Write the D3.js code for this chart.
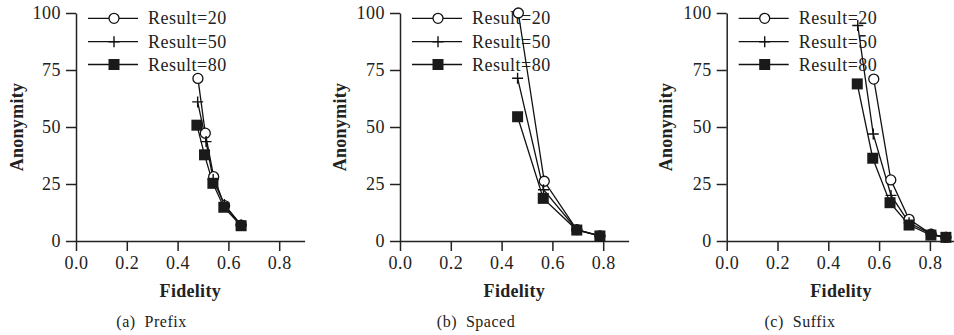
<!DOCTYPE html>
<html>
<head>
<meta charset="utf-8">
<script src="https://cdn.jsdelivr.net/npm/d3@7"></script>
<style>
  html, body { margin: 0; padding: 0; background: #fff; }
  svg { display: block; }
  text { font-family: "Liberation Serif", "Times New Roman", serif; fill: #222; }
</style>
</head>
<body>
<svg id="chart" width="954" height="335"></svg>
<script>
// ---------- data ----------
const seriesNames = ["Result=20", "Result=50", "Result=80"];
const xTicks = [0.0, 0.2, 0.4, 0.6, 0.8];
const yTicks = [0, 25, 50, 75, 100];
const panelCaptions = ["(a)  Prefix", "(b)  Spaced", "(c)  Suffix"];

// Prefix
const prefixFid20 = [0.480, 0.509, 0.542, 0.585, 0.650];
const prefixAno20 = [71.3, 47.3, 28.2, 15.5, 7.0];
const prefixFid50 = [0.479, 0.512, 0.540, 0.584, 0.650];
const prefixAno50 = [61.0, 43.6, 27.0, 16.0, 7.0];
const prefixFid80 = [0.476, 0.506, 0.539, 0.582, 0.650];
const prefixAno80 = [50.8, 37.8, 25.3, 14.8, 6.7];

// Spaced
const spacedFid20 = [0.466, 0.568, 0.696, 0.787];
const spacedAno20 = [100.0, 26.2, 5.0, 2.2];
const spacedFid50 = [0.463, 0.565, 0.696, 0.787];
const spacedAno50 = [71.4, 22.5, 5.0, 2.2];
const spacedFid80 = [0.463, 0.564, 0.696, 0.787];
const spacedAno80 = [54.5, 18.7, 4.8, 2.2];

// Suffix
const suffixFid20 = [0.579, 0.646, 0.718, 0.805, 0.863];
const suffixAno20 = [71.0, 26.8, 9.5, 3.0, 1.6];
const suffixFid50 = [0.516, 0.577, 0.647, 0.718, 0.805, 0.863];
const suffixAno50 = [94.5, 46.9, 20.0, 8.0, 3.0, 1.6];
const suffixFid80 = [0.514, 0.575, 0.643, 0.718, 0.804, 0.863];
const suffixAno80 = [68.9, 36.3, 16.8, 7.0, 2.6, 1.6];

const panelData = [
  [[prefixFid20, prefixAno20], [prefixFid50, prefixAno50], [prefixFid80, prefixAno80]],
  [[spacedFid20, spacedAno20], [spacedFid50, spacedAno50], [spacedFid80, spacedAno80]],
  [[suffixFid20, suffixAno20], [suffixFid50, suffixAno50], [suffixFid80, suffixAno80]]
];

// ---------- layout ----------
const axisX = [76, 400, 726.7];
const yLabelX = [23, 345.5, 672];
const captionX = [151.5, 476, 800];
const plotTop = 13, plotBottom = 241;
const unit = 254;           // px per 1.0 fidelity
const fontSize = 18;

const svg = d3.select("#chart");

function drawMarker(g, kind, x, y) {
  if (kind === 0) {
    g.append("circle").attr("cx", x).attr("cy", y).attr("r", 5)
      .attr("fill", "#fff").attr("stroke", "#111").attr("stroke-width", 1.3);
  } else if (kind === 1) {
    g.append("path").attr("d", `M${x - 5.5},${y}H${x + 5.5}M${x},${y - 5.5}V${y + 5.5}`)
      .attr("stroke", "#111").attr("stroke-width", 1.4).attr("fill", "none");
  } else {
    g.append("rect").attr("x", x - 5.5).attr("y", y - 5.5).attr("width", 11).attr("height", 11)
      .attr("fill", "#1a1a1a");
  }
}

panelData.forEach((series, pi) => {
  const x0 = axisX[pi];
  const xScale = d3.scaleLinear().domain([0, 0.9]).range([x0, x0 + 0.9 * unit]);
  const yScale = d3.scaleLinear().domain([0, 100]).range([plotBottom, plotTop]);

  const g = svg.append("g");

  // axes
  const xAxis = d3.axisBottom(xScale).tickValues(xTicks).tickFormat(d3.format(".1f"))
    .tickSize(10).tickSizeOuter(0).tickPadding(5);
  const yAxis = d3.axisLeft(yScale).tickValues(yTicks)
    .tickSize(10).tickSizeOuter(0).tickPadding(5);

  const gx = g.append("g").attr("transform", `translate(0,${plotBottom})`).call(xAxis);
  const gy = g.append("g").attr("transform", `translate(${x0},0)`).call(yAxis);
  [gx, gy].forEach(a => {
    a.select(".domain").attr("stroke", "#222").attr("stroke-width", 1.5);
    a.selectAll(".tick line").attr("stroke", "#222").attr("stroke-width", 1.5);
    a.selectAll(".tick text").attr("font-size", fontSize)
      .style("letter-spacing", "0.5px")
      .attr("font-family", "'Liberation Serif', 'Times New Roman', serif")
      .attr("fill", "#222");
  });

  // axis titles
  g.append("text")
    .attr("x", x0 + 0.45 * unit).attr("y", 297)
    .attr("text-anchor", "middle").attr("font-weight", "bold")
    .attr("font-size", fontSize).style("letter-spacing", "0.3px")
    .text("Fidelity");
  g.append("text")
    .attr("transform", `translate(${yLabelX[pi]},${(plotTop + plotBottom) / 2}) rotate(-90)`)
    .attr("text-anchor", "middle").attr("font-weight", "bold")
    .attr("font-size", fontSize).style("letter-spacing", "0.3px")
    .text("Anonymity");

  // caption
  g.append("text")
    .attr("x", captionX[pi]).attr("y", 326.5)
    .attr("text-anchor", "middle").attr("font-size", 16)
    .style("letter-spacing", "0.5px").style("white-space", "pre")
    .text(panelCaptions[pi]);

  // legend
  const legRows = [18.3, 41.7, 64.5];
  seriesNames.forEach((name, si) => {
    const ly = legRows[si];
    g.append("line").attr("x1", x0 + 12).attr("x2", x0 + 62)
      .attr("y1", ly).attr("y2", ly).attr("stroke", "#111").attr("stroke-width", 1.3);
    drawMarker(g, si, x0 + 38, ly);
    g.append("text").attr("x", x0 + 72).attr("y", ly + 6)
      .attr("font-size", fontSize).style("letter-spacing", "0.5px")
      .text(name);
  });

  // series
  const line = d3.line().x(d => xScale(d[0])).y(d => yScale(d[1]));
  series.forEach((s) => {
    const pts = s[0].map((fx, i) => [fx, s[1][i]]);
    g.append("path").datum(pts).attr("d", line)
      .attr("fill", "none").attr("stroke", "#111").attr("stroke-width", 1.3);
  });
  series.forEach((s, si) => {
    s[0].forEach((fx, i) => drawMarker(g, si, xScale(fx), yScale(s[1][i])));
  });
});
</script>
</body>
</html>
